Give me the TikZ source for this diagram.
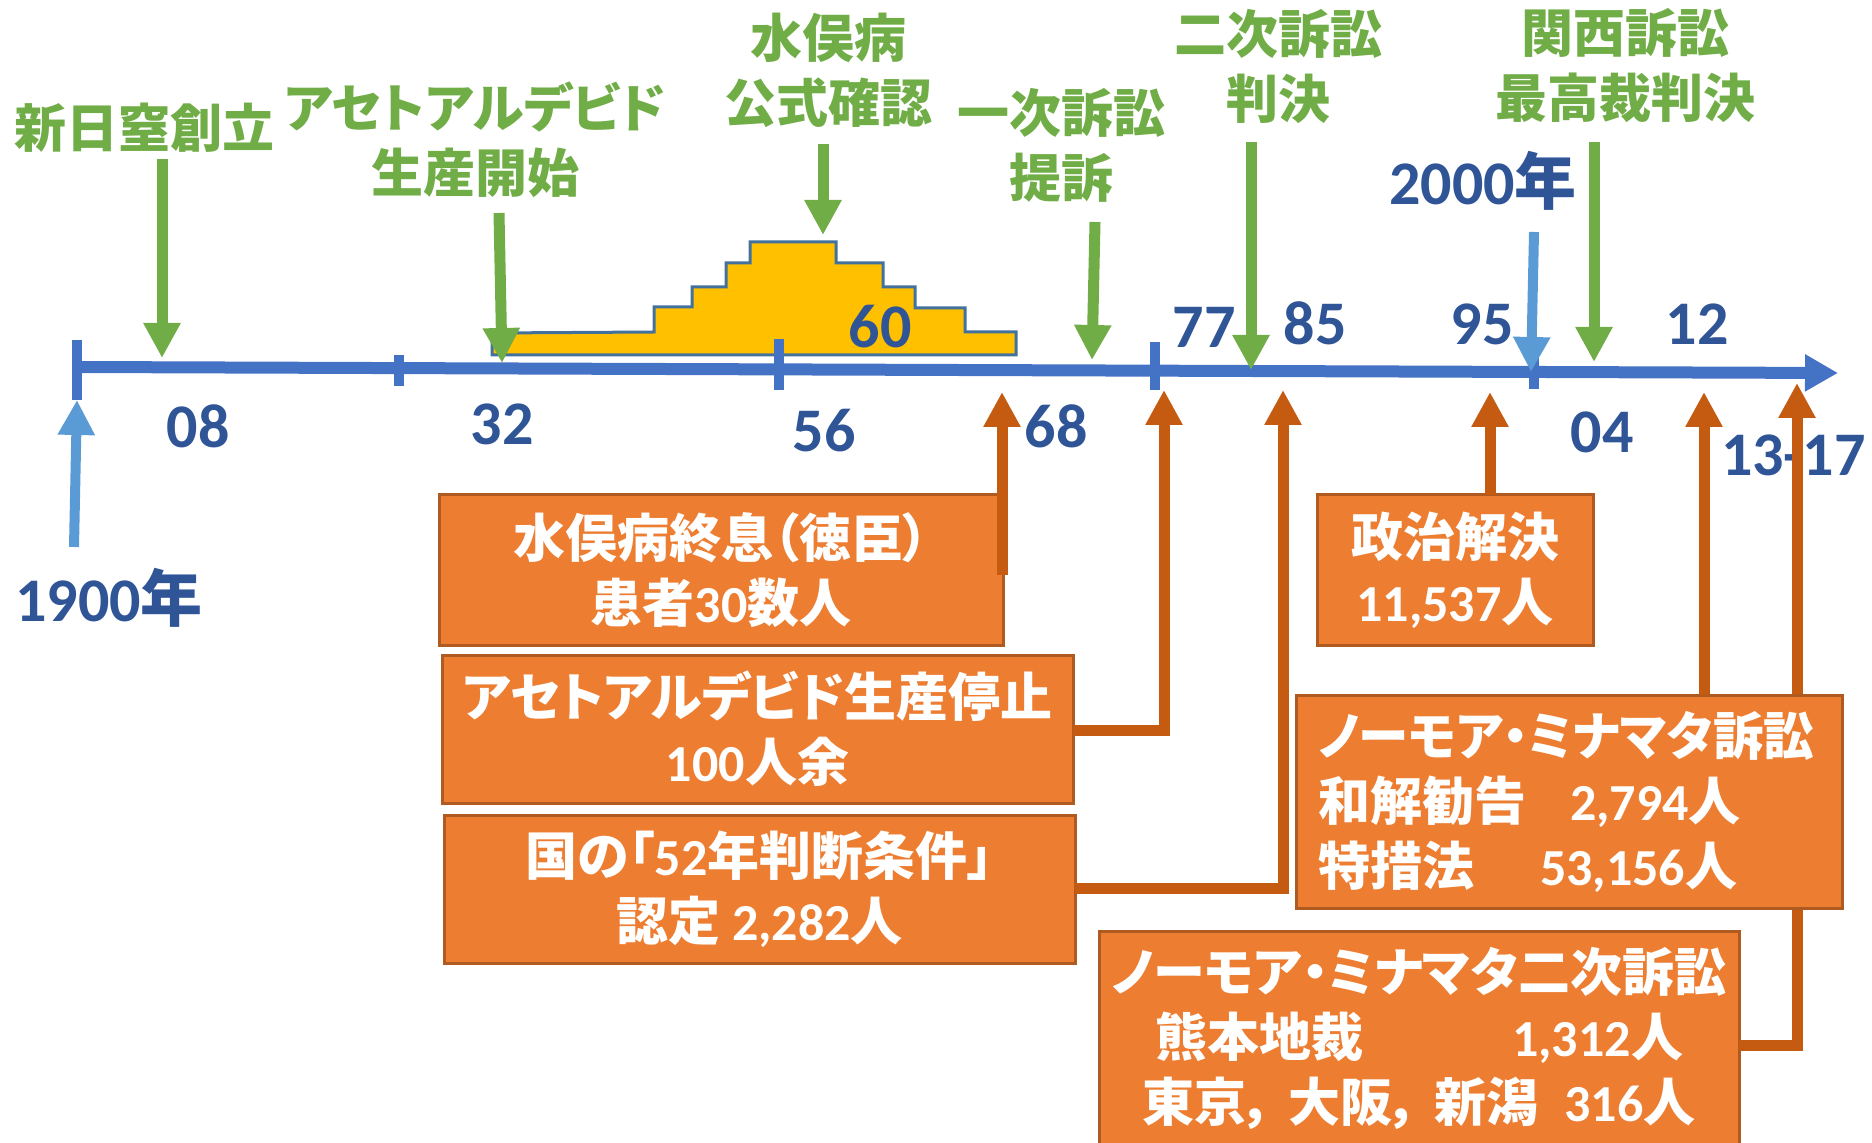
\documentclass[tikz,border=0pt]{standalone}
\usepackage{fontspec}
\usepackage{graphicx}
\setmainfont{Noto Sans CJK JP}[RawFeature=+palt]
\newfontfamily\lat{Carlito}
\usetikzlibrary{arrows.meta}
\definecolor{tlblue}{HTML}{4472C4}
\definecolor{yrblue}{HTML}{2F5597}
\definecolor{grn}{HTML}{70AD47}
\definecolor{lblue}{HTML}{5B9BD5}
\definecolor{ylw}{HTML}{FFC000}
\definecolor{ylwline}{HTML}{41719C}
\definecolor{boxfill}{HTML}{ED7D31}
\definecolor{boxline}{HTML}{AE5A21}
\definecolor{conn}{HTML}{C55A11}
\newcommand\nm[1]{{\lat #1}}
\begin{document}
\begin{tikzpicture}[x=0.5pt,y=-0.5pt,
  every node/.style={inner sep=0pt, outer sep=0pt},
  glabel/.style={text=grn, font=\fontsize{26}{32.5}\selectfont\bfseries, align=center},
  yr/.style={text=yrblue, font=\fontsize{31}{36}\selectfont\bfseries, anchor=base},
  tip/.style={-{Triangle[length=17.5pt,width=17.5pt]}},
  garrow/.style={draw=grn, line width=5.5pt, tip},
  barrow/.style={draw=lblue, line width=5pt, tip},
  oconn/.style={draw=conn, line width=5.5pt, tip},
  tick/.style={draw=tlblue, line width=5pt},
  obox/.style={draw=boxline, line width=1.5pt, fill=boxfill, text=white,
    font=\fontsize{26}{32.5}\selectfont\bfseries, align=center}
]
\useasboundingbox (0,0) rectangle (1872,1143);
\clip (0,0) rectangle (1872,1143);

% yellow step shape
\draw[fill=ylw, draw=ylwline, line width=1.5pt]
  (492,355) -- (492,333) -- (654,332) -- (654,307) -- (692,307) -- (692,287)
  -- (726,287) -- (726,263) -- (750,263) -- (750,242) -- (836,242) -- (836,263)
  -- (883,263) -- (883,287) -- (915,287) -- (915,308) -- (965,308) -- (965,332)
  -- (1016,332) -- (1016,355) -- cycle;

% timeline
\coordinate (tl0) at (77,367);
\coordinate (tl1) at (1838,373);
\draw[draw=tlblue, line width=6pt, -{Triangle[length=16.5pt,width=17.5pt]}] (tl0) -- (tl1);
\draw[tick] (77,340) -- (77,400);
\draw[tick] (399,355) -- (399,386);
\draw[tick] (779,339) -- (779,390);
\draw[tick] (1155,342) -- (1155,390);
\draw[tick] (1534,345) -- (1534,389);

% year labels
\node[yr] (y60) at (880,348) {\nm{60}};
\node[yr] (y08) at (198,448) {\nm{08}};
\node[yr] (y32) at (502,445) {\nm{32}};
\node[yr] (y56) at (824,452) {\nm{56}};
\node[yr] (y68) at (1056,448) {\nm{68}};
\node[yr] (y77) at (1204,348) {\nm{77}};
\node[yr] (y85) at (1315,345) {\nm{85}};
\node[yr] (y95) at (1482,345) {\nm{95}};
\node[yr] (y12) at (1697,345) {\nm{12}};
\node[yr] (y04) at (1602,453) {\nm{04}};
\node[yr, anchor=base west] (y13) at (1721,476) {\nm{13-17}};
\node[yr] (y2000) at (1483,205) {\nm{2000}年};
\node[yr] (y1900) at (109,621) {\nm{1900}年};

% connector of the second suit (passes behind box 5)
\coordinate (t13) at (1797,383);
\coordinate (c6y) at (0,1045);

% boxes
\node[obox, minimum width=282pt, minimum height=75pt] (b1) at (721,570)
  {水俣病終息（徳臣）\\患者\nm{30}数人};
\node[obox, minimum width=315.5pt, minimum height=74pt] (b2) at (757.5,729)
  {アセトアルデビド生産停止\\\nm{100}人余};
\node[obox, minimum width=315.5pt, minimum height=74pt] (b3) at (759.5,889)
  {国の「\nm{52}年判断条件」\\認定 \nm{2,282}人};
\node[obox, minimum width=138pt, minimum height=75pt] (b4) at (1455,570)
  {政治解決\\\nm{11,537}人};
\node[obox, minimum width=320pt, minimum height=107pt] (b6) at (1419,1038)
  {ノーモア・ミナマタ二次訴訟\\
   \makebox[264pt]{熊本地裁\hfill\nm{1,312}人}\\
   東京，\hspace{8pt}大阪，\hspace{8pt}新潟\hspace{13pt}\nm{316}人};
\draw[oconn] (b6.east |- c6y) -| (t13);
\node[obox, text width=251pt, inner xsep=11pt, minimum height=106.5pt, align=left] (b5) at (1569,801.5)
  {\scalebox{0.972}[1]{ノーモア・ミナマタ訴訟}\\
   \makebox[126pt][l]{和解勧告}\nm{2,794}人\\
   \makebox[111pt][l]{特措法}\nm{53,156}人};

% orange connectors
\coordinate (c1s) at (1002,575);
\coordinate (t68) at (1002,392);
\coordinate (t77) at (1164,390);
\coordinate (t85) at (1283,390);
\coordinate (t95) at (1490,392);
\coordinate (t12) at (1704,392);
\coordinate (c2y) at (0,730);
\coordinate (c3y) at (0,888);
\draw[oconn] (c1s) -- (t68);
\draw[oconn] (b2.east |- c2y) -| (t77);
\draw[oconn] (b3.east |- c3y) -| (t85);
\draw[oconn] (b4.north -| t95) -- (t95);
\draw[oconn] (b5.north -| t12) -- (t12);

% green labels
\node[glabel] (g1) at (144,128) {新日窒創立};
\node[glabel] (g2) at (475,140) {アセトアルデビド\\生産開始};
\node[glabel] (g3) at (828,70) {水俣病\\公式確認};
\node[glabel] (g4) at (1061,145) {一次訴訟\\提訴};
\node[glabel] (g5) at (1278,66) {二次訴訟\\判決};
\node[glabel] (g6) at (1625,66) {関西訴訟\\最高裁判決};

% green arrows
\coordinate (g1s) at (162,159); \coordinate (g1e) at (162,358);
\coordinate (g2s) at (499,213); \coordinate (g2e) at (502,363);
\coordinate (g3s) at (823,144); \coordinate (g3e) at (823,235);
\coordinate (g4s) at (1095,222); \coordinate (g4e) at (1092,360);
\coordinate (g5s) at (1251,142); \coordinate (g5e) at (1251,370);
\coordinate (g6s) at (1594,142); \coordinate (g6e) at (1594,362);
\draw[garrow] (g1s) -- (g1e);
\draw[garrow] (g2s) -- (g2e);
\draw[garrow] (g3s) -- (g3e);
\draw[garrow] (g4s) -- (g4e);
\draw[garrow] (g5s) -- (g5e);
\draw[garrow] (g6s) -- (g6e);

% blue arrows
\coordinate (a2000s) at (1534,232); \coordinate (a2000e) at (1531,372);
\coordinate (a1900s) at (74,547); \coordinate (a1900e) at (77,400);
\draw[barrow] (a2000s) -- (a2000e);
\draw[barrow] (a1900s) -- (a1900e);
\end{tikzpicture}
\end{document}
